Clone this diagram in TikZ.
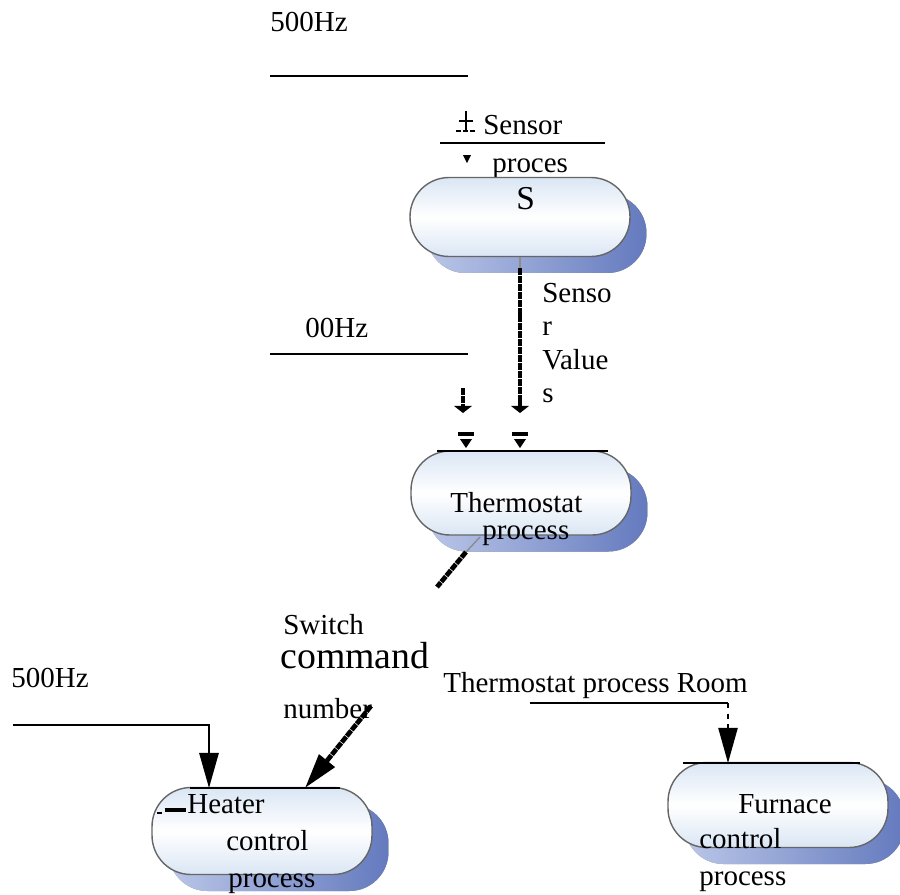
\documentclass[tikz,border=0pt]{standalone}
\usepackage{fontspec}
\setmainfont{Liberation Serif}
\usetikzlibrary{arrows.meta,shadows}
\definecolor{pillblue}{RGB}{218,230,244}
\definecolor{shadowdark}{RGB}{100,122,190}
\definecolor{shadowlight}{RGB}{186,198,232}
\definecolor{stubgray}{RGB}{140,140,140}

\begin{document}
\begin{tikzpicture}[x=0.02cm,y=-0.02cm,
  font=\fontsize{16.5}{19}\selectfont,
  lbl/.style={anchor=base west,inner sep=0pt},
  proc/.style={rounded corners=0.78cm,minimum width=4.4cm,minimum height=1.7cm,draw=black!60,line width=0.8pt,
    top color=pillblue,bottom color=pillblue,middle color=white,
    drop shadow={shadow xshift=0.33cm,shadow yshift=-0.33cm,opacity=1,left color=shadowlight,right color=shadowdark,draw=none}},
  bar/.style={line width=1.6pt},
  wire/.style={line width=1.1pt},
  flow/.style={line width=2.7pt,dash pattern=on 4pt off 0.5pt},
  bigtip/.style={-{Triangle[width=11pt,length=20pt]}},
  smalltip/.style={-{Triangle[width=10pt,length=4pt]}}]
\useasboundingbox (0,0) rectangle (900,894);

\node[lbl] (hzTop) at (270,31) {500Hz};
\draw[bar] (270,76) -- (468,76);

\draw[line width=0.8pt] (466,111) -- (466,130);
\draw[line width=0.8pt] (459,121) -- (473,121);
\draw[line width=1.6pt,dash pattern=on 3pt off 1pt] (456,131) -- (476,131);
\node[lbl] (sensorLbl) at (483,134) {Sensor};
\draw[bar] (440,143) -- (605,143);
\fill (463,155) -- (471,155) -- (467,163) -- cycle;
\node[lbl] (procesLbl) at (492,172) {proces};

\node[proc,minimum height=1.58cm] (sensor) at (520,217) {};
\node[lbl,font=\fontsize{19}{21}\selectfont] (sLbl) at (516,209) {S};

\coordinate (svMid) at (520,268);
\coordinate (svEnd) at (520,413);
\draw[stubgray,line width=0.8pt] (sensor.south) -- (svMid);
\draw[flow,smalltip] (svMid) -- (svEnd);
\node[anchor=north west,inner sep=0pt,align=left] (svLbl) at (542,283) {Senso\\r\\Value\\s};

\node[lbl] (hzMid) at (305,337) {00Hz};
\draw[bar] (270,354) -- (468,354);

\coordinate (lsTop) at (463,388);
\coordinate (lsEnd) at (463,413);
\draw[flow,smalltip] (lsTop) -- (lsEnd);
\draw[line width=2.4pt] (458,434) -- (474,434);
\fill (460,439) -- (472,439) -- (466,448) -- cycle;
\draw[line width=2.4pt] (512,434) -- (528,434);
\fill (514,439) -- (526,439) -- (520,448) -- cycle;

\node[proc,minimum height=1.68cm] (thermo) at (521,493) {};
\draw[bar] (437,451) -- (608,451);
\node[lbl] (thermoLbl) at (450,512) {Thermostat};
\node[lbl] (thermoProc) at (482,539) {process};

\coordinate (toA) at (480,537);
\coordinate (toB) at (466,552);
\coordinate (toC) at (437,587);
\draw[stubgray,line width=0.8pt] (toA) -- (toB);
\draw[flow] (toB) -- (toC);

\node[lbl] (switchLbl) at (283,634) {Switch};
\node[lbl,font=\fontsize{21.5}{24}\selectfont] (commandLbl) at (280,668) {command};
\node[lbl] (numberLbl) at (283,718) {number};
\node[lbl] (hzLeft) at (11,687) {500Hz};
\node[lbl] (roomLbl) at (443,692) {Thermostat process Room};

\node[proc,minimum height=1.74cm] (heater) at (262,831) {};
\draw[bar] (190,788) -- (340,788);
\coordinate (hzStart) at (13,725);
\coordinate (hzBend) at (209,725);
\coordinate (hIn1) at (209,788);
\draw[wire,bigtip] (hzStart) -- (hzBend) -- (hIn1);
\coordinate (numStart) at (371,706);
\coordinate (hIn2) at (305,788);
\draw[flow,bigtip] (numStart) -- (hIn2);
\draw[line width=2pt] (165,810) -- (186,810);
\draw[line width=1.5pt] (157,813) -- (162,813);
\node[lbl] (heaterLbl) at (187,813) {Heater};
\node[lbl] (heaterCtl) at (226,850) {control};
\node[lbl] (heaterProc) at (228,887) {process};

\node[proc,minimum height=1.7cm] (furnace) at (778,805) {};
\draw[bar] (683,763) -- (860,763);
\coordinate (roomStart) at (530,703);
\coordinate (roomBend) at (728,703);
\coordinate (fIn) at (728,763);
\draw[wire] (roomStart) -- (roomBend);
\draw[line width=0.8pt,dashed,bigtip] (roomBend) -- (fIn);
\node[lbl] (furnaceLbl) at (738,813) {Furnace};
\node[lbl] (furnaceCtl) at (699,848) {control};
\node[lbl] (furnaceProc) at (699,885) {process};
\end{tikzpicture}
\end{document}
